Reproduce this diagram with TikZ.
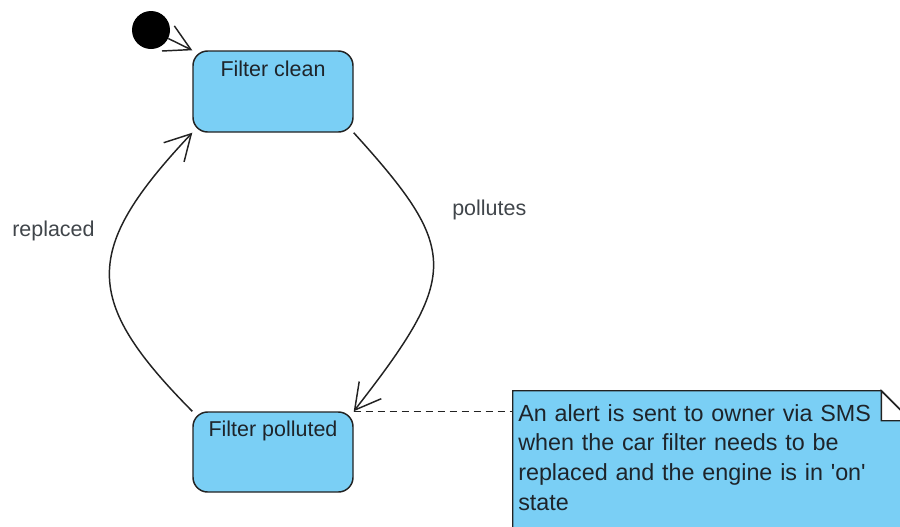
\documentclass[tikz,border=0pt]{standalone}
\usepackage{fontspec}
\setmainfont{Liberation Sans}
\usetikzlibrary{arrows.meta}
\definecolor{statefill}{RGB}{122,207,245}
\definecolor{ink}{RGB}{34,34,34}
\definecolor{textink}{RGB}{30,36,42}
\tikzset{
  state/.style={draw=ink, line width=1.1pt, fill=statefill, rounded corners=11pt,
    minimum width=120pt, inner sep=0pt},
  statetext/.style={anchor=base, inner sep=0pt, text=textink,
    font=\fontsize{16.1pt}{19pt}\selectfont},
  edgelabel/.style={anchor=base west, inner sep=0pt, text=textink!85,
    font=\fontsize{16.1pt}{19pt}\selectfont},
  initstate/.style={circle, fill=black, minimum size=28.5pt, inner sep=0pt},
  trans/.style={draw=ink, line width=1.1pt,
    -{Straight Barb[length=19pt,width=21pt,line width=1.1pt]}},
  noteshape/.style={rectangle, inner sep=0pt,
    minimum width=298.5pt, minimum height=126.75pt},
  noteline/.style={draw=ink, line width=1.1pt, line join=miter},
  notetext/.style={anchor=base west, inner sep=0pt, text=textink,
    text width=290pt, align=left,
    font=\fontsize{17.5pt}{22.3pt}\selectfont},
  anchorline/.style={draw=ink, line width=1.1pt, dash pattern=on 5.5pt off 3.5pt}
}
\begin{document}
\begin{tikzpicture}[x=0.75pt, y=-0.75pt]
\useasboundingbox (0,0) rectangle (900,526);
\clip (0,0) rectangle (900,526);

% states
\node[state, minimum height=60.75pt] (clean) at (273,91.5) {};
\node[statetext] (cleanlbl) at (273,76) {Filter clean};
\node[state, minimum height=60pt] (polluted) at (273,452) {};
\node[statetext] (pollutedlbl) at (273,436) {Filter polluted};

% initial pseudo-state
\node[initstate] (init) at (151,30) {};
\draw[trans] (init) -- (clean.north west);

% transitions
\draw[trans] (clean.south east) .. controls (460,250) and (460,275) .. (polluted.north east);
\draw[trans] (polluted.north west) .. controls (82,300) and (82,250) .. (clean.south west);
\node[edgelabel] (pollutes) at (452,215.5) {pollutes};
\node[edgelabel] (replaced) at (12,236) {replaced};

% comment note with folded corner
\node[noteshape] (note) at (712,475.5) {};
\coordinate (foldtop) at ([xshift=-22.5pt]note.north east);
\coordinate (foldside) at ([yshift=-22.5pt]note.north east);
\coordinate (foldin) at ([xshift=-22.5pt,yshift=-22.5pt]note.north east);
\path[noteline, fill=statefill] (note.north west) -- (foldtop) -- (foldside)
  -- (note.south east) -- (note.south west) -- cycle;
\path[noteline, fill=white] (foldtop) -- (foldin) -- (foldside) -- cycle;
\node[notetext] (notebody) at (518,421) {An alert is sent to owner via SMS\\
when the car filter needs to be\\
replaced and the engine is in \textquotesingle on\textquotesingle\\
state};

% note attachment
\coordinate (notepin) at (note.west |- polluted.north east);
\draw[anchorline] (polluted.north east) -- (notepin);
\end{tikzpicture}
\end{document}
